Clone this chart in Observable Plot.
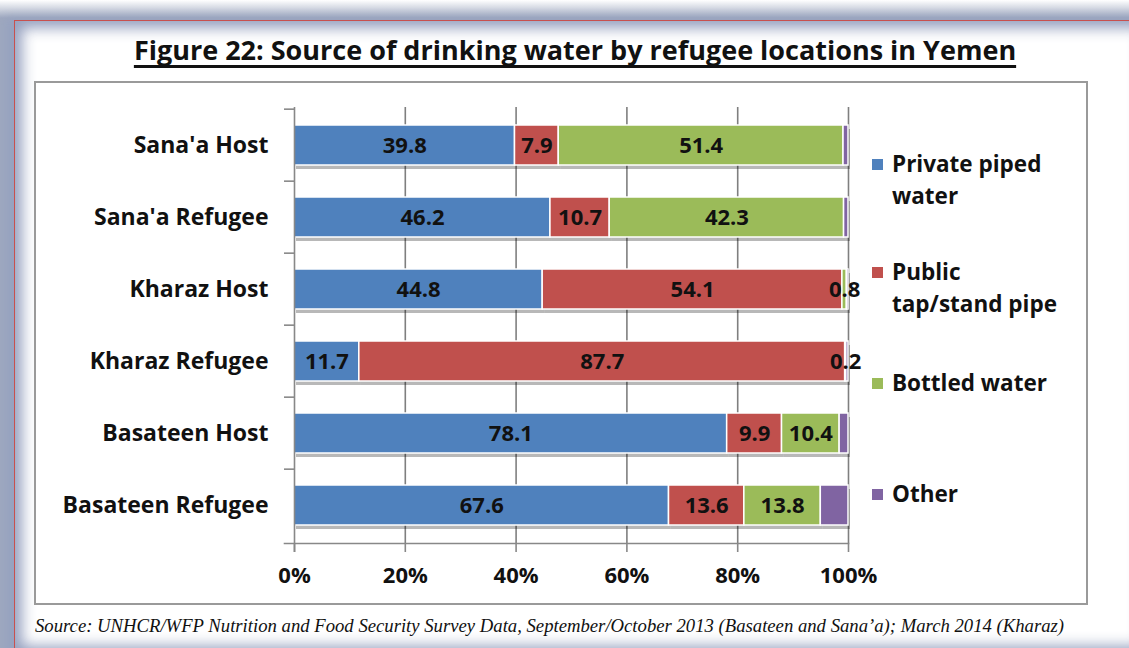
<!DOCTYPE html>
<html>
<head>
<meta charset="utf-8">
<script src="https://cdn.jsdelivr.net/npm/d3@7"></script>
<script src="https://cdn.jsdelivr.net/npm/@observablehq/plot@0.6"></script>
<style>
  html, body { margin: 0; padding: 0; background: #fff; }
  #page { position: relative; width: 1129px; height: 648px; overflow: hidden; background: linear-gradient(#ffffff, #9ea8bf 18px); font-family: "Open Sans", sans-serif; color: #111; }
  #frame { position: absolute; left: 14px; top: 20px; width: 1135px; height: 634px; box-sizing: border-box; border: 1.5px solid #c8504e; background: #fff;
           box-shadow: inset 0 0 14px 7px rgba(142,154,186,0.95), -6px 0 8px 2px rgba(150,162,192,0.9); }
  #title { position: absolute; left: 0; width: 1150px; top: 34px; text-align: center; font-weight: bold; font-size: 27px; line-height: 32px;
           text-decoration: underline; text-decoration-thickness: 3px; text-underline-offset: 5px; text-decoration-skip-ink: none; }
  #box { position: absolute; left: 34px; top: 81px; width: 1054px; height: 524px; box-sizing: border-box; border: 2px solid #9a9a9a; background: #fff; }
  #chart { position: absolute; left: 0; top: 0; }
  .leg { position: absolute; left: 872px; font-weight: bold; font-size: 22.5px; line-height: 32px; }
  .leg .sw { position: absolute; left: 0; width: 11px; height: 11px; }
  .leg .tx { position: absolute; left: 20px; top: 0; white-space: pre; }
  #source { position: absolute; left: 35px; top: 615px; font-family: "Liberation Serif", "Times New Roman", serif; font-style: italic; font-size: 18.7px; line-height: 22px; white-space: nowrap; }
</style>
</head>
<body>
<div id="page">
  <div id="frame"></div>
  <div id="title">Figure 22: Source of drinking water by refugee locations in Yemen</div>
  <div id="box"></div>
  <div id="chart"></div>
  <div id="legend"></div>
  <div id="source">Source: UNHCR/WFP Nutrition and Food Security Survey Data, September/October 2013 (Basateen and Sana’a); March 2014 (Kharaz)</div>
</div>
<script>
// ---- data ----
const categories = ["Sana'a Host", "Sana'a Refugee", "Kharaz Host", "Kharaz Refugee", "Basateen Host", "Basateen Refugee"];
const series = ["Private piped water", "Public tap/stand pipe", "Bottled water", "Other"];
const legendLabels = ["Private piped\nwater", "Public\ntap/stand pipe", "Bottled water", "Other"];
const colors = ["#4f81bd", "#c0504d", "#9bbb59", "#8064a2"];
const privatePiped = [39.8, 46.2, 44.8, 11.7, 78.1, 67.6];
const publicTap = [7.9, 10.7, 54.1, 87.7, 9.9, 13.6];
const bottled = [51.4, 42.3, 0.8, 0.2, 10.4, 13.8];
const other = [0.9, 0.8, 0.3, 0.4, 1.6, 5.0];
const xTicks = [0, 20, 40, 60, 80, 100];

const valuesBySeries = [privatePiped, publicTap, bottled, other];
const data = [];
series.forEach((s, si) => categories.forEach((c, ci) => data.push({series: s, cat: c, value: valuesBySeries[si][ci]})));

// ---- layout ----
const W = 1129, H = 648;
const mTop = 107, mBottom = 105, mLeft = 294, mRight = 281;
const step = (H - mTop - mBottom) / categories.length;
const axisColor = "#888";
const textColor = "#111";

const stackOpts = {x: "value", y: "cat", z: "series"};

const chart = Plot.plot({
  width: W,
  height: H,
  marginTop: mTop, marginBottom: mBottom, marginLeft: mLeft, marginRight: mRight,
  style: {background: "transparent", fontFamily: "Open Sans", overflow: "visible"},
  x: {domain: [0, 100]},
  y: {domain: categories, paddingInner: 0.45, paddingOuter: 0.225},
  color: {domain: series, range: colors},
  marks: [
    Plot.gridX(xTicks.slice(1), {stroke: "#7f7f7f", strokeOpacity: 1, strokeWidth: 1.6}),
    // shadow under bars
    Plot.barX(data, Plot.stackX({...stackOpts, fill: "#000", fillOpacity: 0.28, dy: 4, dx: 2, ariaLabel: "bar-shadow"})),
    Plot.barX(data, Plot.stackX({...stackOpts, fill: "series", stroke: "white", strokeWidth: 1.5})),
    Plot.text(data, Plot.stackX({...stackOpts, filter: d => d.series !== "Other",
      text: d => d.value.toFixed(1), fill: textColor, fontSize: 22, fontWeight: "bold"})),
    // left axis line (extends down to the 0% tick)
    Plot.ruleX([0], {stroke: axisColor, strokeWidth: 1.6, insetBottom: -9}),
    // bottom axis line (extends left to the last category tick)
    Plot.frame({anchor: "bottom", stroke: axisColor, strokeWidth: 1.6, insetLeft: -10}),
    // category boundary ticks
    Plot.ruleY(categories, {y: d => d, x1: 0, x2: 0, insetLeft: -10, dy: -step / 2, stroke: axisColor, strokeWidth: 1.6}),
    Plot.axisX(xTicks, {tickSize: 9, tickPadding: 15, tickFormat: d => d + "%", stroke: axisColor, strokeWidth: 1.6, fill: textColor, fontSize: 22, fontWeight: "bold", label: null}),
    Plot.axisY({tickSize: 0, tickPadding: 26, fill: textColor, fontSize: 23, fontWeight: "bold", label: null})
  ]
});
document.getElementById("chart").appendChild(chart);
const sh = chart.querySelector('g[aria-label="bar-shadow"]');
if (sh) sh.style.filter = "blur(2px)";

// ---- legend ----
const legend = document.getElementById("legend");
const legendBaselines = [171.5, 280, 391, 501.5];
series.forEach((s, i) => {
  const item = document.createElement("div");
  item.className = "leg";
  item.style.top = (legendBaselines[i] - 24) + "px";
  const sw = document.createElement("div");
  sw.className = "sw";
  sw.style.background = colors[i];
  sw.style.top = "11px";
  const tx = document.createElement("div");
  tx.className = "tx";
  tx.textContent = legendLabels[i];
  item.appendChild(sw);
  item.appendChild(tx);
  legend.appendChild(item);
});
</script>
</body>
</html>
